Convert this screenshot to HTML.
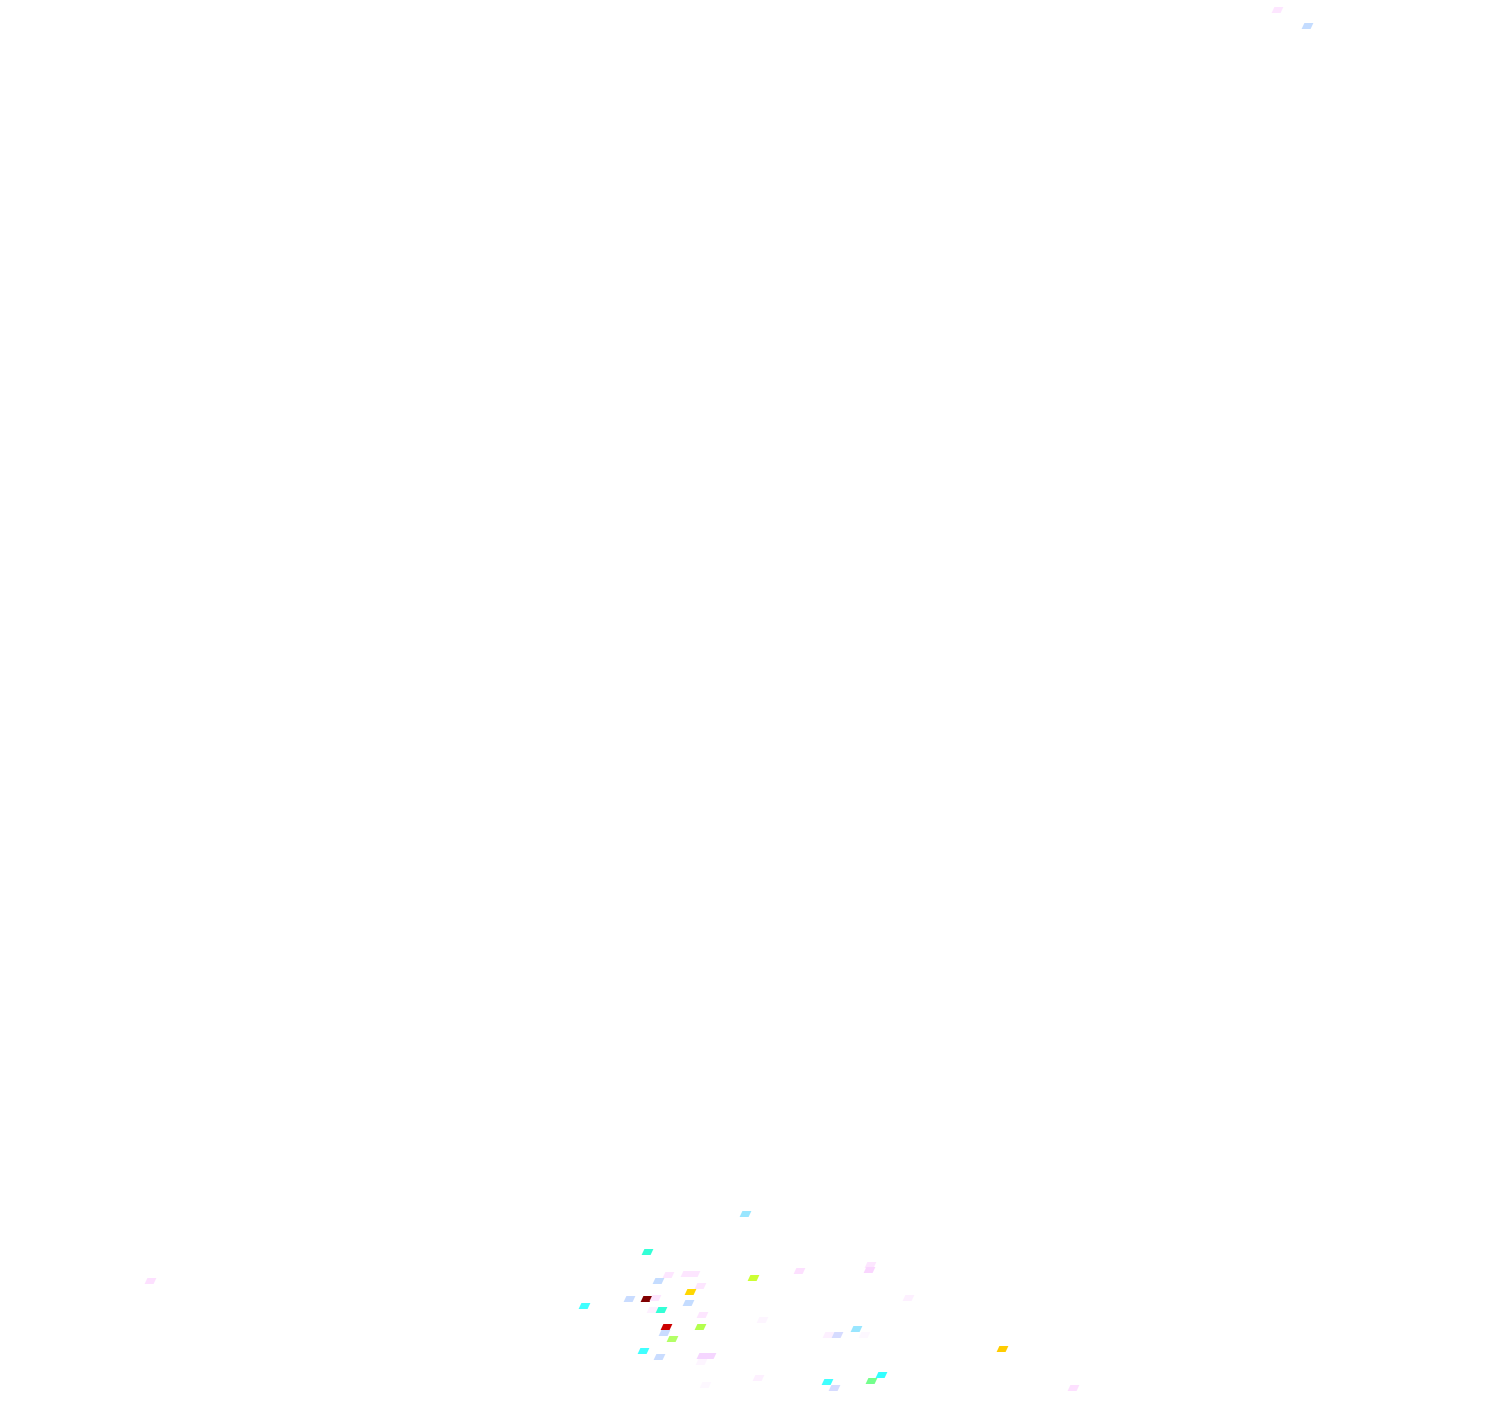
<!DOCTYPE html>
<html><head><meta charset="utf-8"><style>
html,body{margin:0;padding:0;background:#fff;}
body{width:1500px;height:1408px;position:relative;overflow:hidden;}
i{position:absolute;display:block;width:9px;height:6px;transform:skewX(-25deg);}
i.w{width:17px;}
</style></head><body>
<i style="left:1273px;top:7px;background:#fde6ff"></i>
<i style="left:1303px;top:23px;background:#c4dcff"></i>
<i style="left:146px;top:1278px;background:#fde0ff"></i>
<i style="left:741px;top:1211px;background:#99e6ff"></i>
<i style="left:643px;top:1249px;background:#33ffd6"></i>
<i style="left:664px;top:1272px;background:#fde6ff"></i>
<i class="w" style="left:682px;top:1271px;background:#fde6ff"></i>
<i style="left:654px;top:1278px;background:#c4dcff"></i>
<i style="left:749px;top:1275px;background:#ccff33"></i>
<i style="left:795px;top:1268px;background:#fde0ff"></i>
<i style="left:866px;top:1262px;background:#fde6ff"></i>
<i style="left:865px;top:1267px;background:#fad6ff"></i>
<i style="left:696px;top:1283px;background:#fde6ff"></i>
<i style="left:686px;top:1289px;background:#ffd700"></i>
<i style="left:625px;top:1296px;background:#c9dcff"></i>
<i style="left:642px;top:1296px;background:#800000"></i>
<i style="left:651px;top:1295px;background:#fde6ff"></i>
<i style="left:580px;top:1303px;background:#40ffff"></i>
<i style="left:684px;top:1300px;background:#c4dcff"></i>
<i style="left:648px;top:1307px;background:#fdf0ff"></i>
<i style="left:657px;top:1307px;background:#33ffd6"></i>
<i style="left:698px;top:1312px;background:#fde6ff"></i>
<i style="left:758px;top:1317px;background:#fdf5ff"></i>
<i style="left:662px;top:1324px;background:#cc0000"></i>
<i style="left:696px;top:1324px;background:#b3ff4d"></i>
<i style="left:660px;top:1330px;background:#c9dcff"></i>
<i style="left:668px;top:1336px;background:#b3ff66"></i>
<i style="left:824px;top:1332px;background:#fdf0ff"></i>
<i style="left:833px;top:1332px;background:#d6dbff"></i>
<i style="left:852px;top:1326px;background:#99e6ff"></i>
<i style="left:860px;top:1332px;background:#fdf8ff"></i>
<i style="left:904px;top:1295px;background:#fdf0ff"></i>
<i style="left:639px;top:1348px;background:#40ffff"></i>
<i style="left:655px;top:1354px;background:#c9dcff"></i>
<i class="w" style="left:698px;top:1353px;background:#f5d6ff"></i>
<i style="left:697px;top:1359px;background:#fdf5ff"></i>
<i style="left:754px;top:1375px;background:#fdf0ff"></i>
<i style="left:701px;top:1382px;background:#fdf8ff"></i>
<i style="left:823px;top:1379px;background:#40ffff"></i>
<i style="left:830px;top:1385px;background:#d6dbff"></i>
<i style="left:867px;top:1378px;background:#73ff8c"></i>
<i style="left:877px;top:1372px;background:#33ffff"></i>
<i style="left:998px;top:1346px;background:#ffcc00"></i>
<i style="left:1069px;top:1385px;background:#fde0ff"></i>
</body></html>
